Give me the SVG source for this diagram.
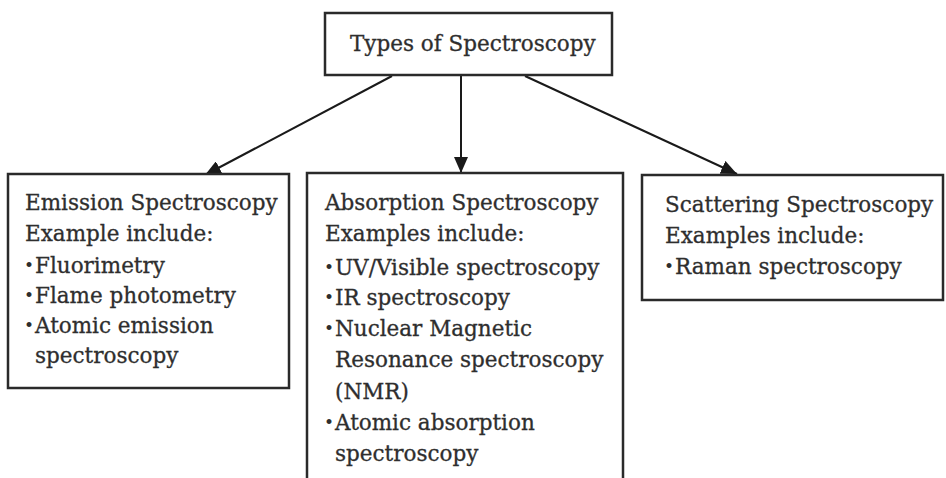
<svg xmlns="http://www.w3.org/2000/svg" width="946" height="478" viewBox="0 0 946 478">
<defs>
<marker id="ah" markerUnits="userSpaceOnUse" markerWidth="18" markerHeight="14" refX="16" refY="7" orient="auto">
<path d="M0,0 L16,7 L0,14 Z" fill="#1a1a1a"/>
</marker>
</defs>
<style>
.box{fill:#fff;stroke:#2a2a2a;stroke-width:2.5}
.t{font-family:"DejaVu Serif","Liberation Serif",serif;font-size:21.5px;fill:#2e2e2e;stroke:#2e2e2e;stroke-width:0.3}
.b{font-family:"DejaVu Serif","Liberation Serif",serif;font-size:17px;fill:#2e2e2e}
.c{stroke:#1a1a1a;stroke-width:2;fill:none}
</style>
<rect width="946" height="478" fill="#fff"/>
<g id="connectors">
<line class="c" x1="392" y1="76" x2="205" y2="175" marker-end="url(#ah)"/>
<line class="c" x1="461" y1="76" x2="461" y2="173" marker-end="url(#ah)"/>
<line class="c" x1="525" y1="76" x2="737" y2="174" marker-end="url(#ah)"/>
</g>
<g id="root">
<rect class="box" x="325" y="13" width="287" height="62"/>
<text class="t" x="350" y="51">Types of Spectroscopy</text>
</g>
<g id="emission">
<rect class="box" x="8" y="174" width="281" height="214"/>
<text class="t" x="25" y="210">Emission Spectroscopy</text>
<text class="t" x="25" y="241">Example include:</text>
<text class="b" x="24" y="271">•</text><text class="t" x="35" y="273">Fluorimetry</text>
<text class="b" x="24" y="301">•</text><text class="t" x="35" y="303">Flame photometry</text>
<text class="b" x="24" y="331">•</text><text class="t" x="35" y="333">Atomic emission</text>
<text class="t" x="35" y="363">spectroscopy</text>
</g>
<g id="absorption">
<rect class="box" x="307" y="173" width="316" height="320"/>
<text class="t" x="325" y="210">Absorption Spectroscopy</text>
<text class="t" x="325" y="241">Examples include:</text>
<text class="b" x="324" y="273">•</text><text class="t" x="335" y="275">UV/Visible spectroscopy</text>
<text class="b" x="324" y="303">•</text><text class="t" x="335" y="305">IR spectroscopy</text>
<text class="b" x="324" y="334">•</text><text class="t" x="335" y="336">Nuclear Magnetic</text>
<text class="t" x="335" y="367">Resonance spectroscopy</text>
<text class="t" x="335" y="399">(NMR)</text>
<text class="b" x="324" y="428">•</text><text class="t" x="335" y="430">Atomic absorption</text>
<text class="t" x="335" y="461">spectroscopy</text>
</g>
<g id="scattering">
<rect class="box" x="642" y="175" width="301" height="125"/>
<text class="t" x="665" y="212">Scattering Spectroscopy</text>
<text class="t" x="665" y="243">Examples include:</text>
<text class="b" x="664" y="272">•</text><text class="t" x="675" y="274">Raman spectroscopy</text>
</g>
</svg>
